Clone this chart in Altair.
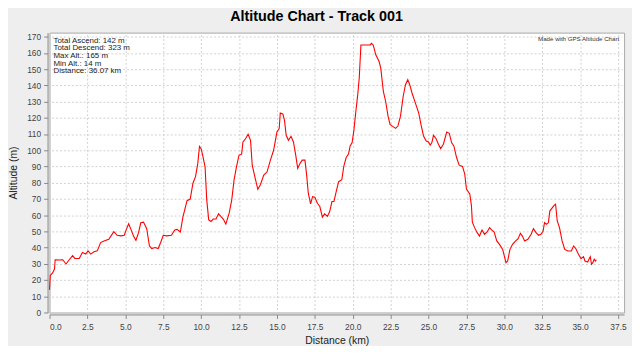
import altair as alt
import pandas as pd

# ---- data ----
distance_km = [
    0.0, 0.05, 0.2, 0.33, 0.37, 0.65, 0.87, 1.09, 1.3, 1.52, 1.67, 1.96, 2.17, 2.39, 2.54, 2.72, 2.93,
    3.15, 3.37, 3.59, 3.91, 4.24, 4.46, 4.72, 4.93, 5.07, 5.22, 5.37, 5.54, 5.7, 5.87, 6.02, 6.2,
    6.41, 6.59, 6.74, 6.96, 7.17, 7.33, 7.5, 7.72, 8.04, 8.26, 8.41, 8.63, 8.8, 9.07, 9.28, 9.46,
    9.63, 9.78, 9.89,
    10.0, 10.1, 10.26, 10.37, 10.5, 10.65, 10.8, 10.98, 11.15, 11.3, 11.46, 11.63, 11.85, 12.02,
    12.17, 12.33, 12.5, 12.67, 12.76, 12.93, 13.1, 13.26, 13.37, 13.54, 13.74, 13.9, 14.13, 14.35,
    14.57, 14.78, 15.0, 15.15, 15.22, 15.39, 15.5, 15.61, 15.76, 15.93, 16.09, 16.24, 16.37, 16.52,
    16.67, 16.85, 16.96, 17.07, 17.22, 17.35, 17.5, 17.67, 17.83, 18.0, 18.15, 18.33, 18.48, 18.63,
    18.76, 18.91, 19.07,
    19.28, 19.41, 19.57, 19.72, 19.83, 19.96, 20.07, 20.22, 20.33, 20.43, 20.54, 20.98, 21.15, 21.24,
    21.35, 21.52, 21.74, 21.85, 22.02, 22.17, 22.33, 22.46, 22.61, 22.83, 22.98, 23.15, 23.33, 23.48,
    23.63, 23.76, 23.91, 24.13, 24.35, 24.5, 24.67, 24.85, 25.0, 25.11, 25.22, 25.33, 25.5, 25.65,
    25.8, 25.98, 26.2, 26.37, 26.52, 26.67, 26.85, 27.02, 27.24, 27.39, 27.5, 27.72, 27.83, 27.89,
    28.04, 28.21, 28.36, 28.53, 28.69, 28.86, 29.03, 29.18, 29.33, 29.5, 29.68, 29.89, 30.0, 30.11,
    30.22, 30.37, 30.54, 30.75, 30.91, 31.06, 31.19, 31.34, 31.55, 31.77, 31.92, 32.09, 32.26, 32.41,
    32.56, 32.65, 32.78, 32.91, 33.0, 33.17, 33.28, 33.38, 33.49, 33.64, 33.81, 33.99, 34.2, 34.42,
    34.57, 34.72, 34.89, 35.06, 35.22, 35.32, 35.5, 35.58, 35.67, 35.75, 35.84, 35.93, 36.01, 36.07,
]
altitude_m = [
    14, 22.8, 24.4, 26.8, 32.5, 32.3, 32.5, 29.9, 32.5, 35, 33.3, 33.3, 37, 36, 38, 36, 37.4,
    38, 43.1, 44.1, 45.1, 49.8, 47.6, 47.2, 47.6, 51.2, 54.7, 51.2, 47.2, 44.5, 49.2, 55.3, 55.7,
    51.6, 41, 39.4, 40, 39.4, 43.1, 47.6, 47.2, 47.6, 50.8, 51.2, 49.6, 58.9, 68.9, 69.9, 79.7,
    83.7, 91.9, 102.4,
    101, 97, 89.8, 69.4, 57.1, 56.1, 57.6, 57.6, 60.8, 59.2, 57.6, 54.5, 61.2, 69.4,
    81.6, 89.8, 97, 97.6, 105.1, 107.1, 109.8, 106.1, 90.8, 83.7, 75.9, 78.6, 84.7, 86.7,
    93.9, 100, 111.2, 113.3, 122.9, 122.4, 118.4, 109.2, 106.1, 108.6, 105.1, 97, 88.8, 91.8,
    93.9, 93.9, 84.7, 73.5, 66.9, 71.4, 71, 67.3, 65.3, 58.8, 60.8, 59.2, 62.2, 68.4,
    68.4, 74.5, 80.6,
    81.8, 90, 95.5, 97.6, 102.7, 104.7, 111.8, 125.1, 134.3, 144.5, 164.9, 164.9, 164.9, 165.9,
    164.9, 158.8, 154.7, 150.6, 136.3, 130.2, 121, 115.9, 114.9, 113.5, 114.9, 121, 133.3, 140.4,
    143.5, 140.4, 135.3, 129.2, 123.1, 115.9, 108.8, 105.7, 105.1, 103.1, 104.7, 109.2, 107.1, 103.7,
    101, 103.7, 111.2, 110.4, 104.7, 102.7, 95.5, 90.8, 90, 85.3, 76.1, 73.1, 65.9, 55.7,
    52.3, 49.2, 47.1, 50.8, 48.2, 49.6, 52.3, 50.8, 49.6, 44.1, 42, 38.9, 34.8, 30.7,
    31.7, 38.9, 42, 44.1, 45.5, 48.8, 47.1, 44.1, 45.1, 48.2, 51.7, 49.2, 47.6, 48.2,
    50.2, 55.4, 54.3, 55.4, 62.5, 64.6, 66, 66.7, 56.4, 52.3, 44.1, 38.9, 37.9, 37.9,
    41, 39.3, 35.9, 33.2, 34.4, 31.7, 31.1, 32.8, 34.4, 29.7, 30.7, 32.8, 31.7, 32.5,
]
x_ticks = [0.0, 2.5, 5.0, 7.5, 10.0, 12.5, 15.0, 17.5, 20.0, 22.5, 25.0, 27.5, 30.0, 32.5, 35.0, 37.5]
y_ticks = [0, 10, 20, 30, 40, 50, 60, 70, 80, 90, 100, 110, 120, 130, 140, 150, 160, 170]
stats_lines = [
    "Total Ascend: 142 m",
    "Total Descend: 323 m",
    "Max Alt.: 165 m",
    "Min Alt.: 14 m",
    "Distance: 36.07 km",
]
chart_title = "Altitude Chart - Track 001"
credit_text = "Made with GPS Altitude Chart"
x_title = "Distance (km)"
y_title = "Altitude (m)"

FONT = "Liberation Sans"

df = pd.DataFrame({"d": distance_km, "a": altitude_m})

line = alt.Chart(df).mark_line(color="#ff0000", strokeWidth=1.1).encode(
    x=alt.X(
        "d:Q",
        scale=alt.Scale(domain=[0, 37.9], nice=False, zero=False),
        axis=alt.Axis(
            values=x_ticks, format=".1f", title=x_title,
            titleBaseline="alphabetic", titleY=29, titleX=290.5,
            labelPadding=4, labelBaseline="top",
        ),
    ),
    y=alt.Y(
        "a:Q",
        scale=alt.Scale(domain=[0, 172.5], nice=False),
        axis=alt.Axis(
            values=y_ticks, format="d", title=y_title,
            titleX=-29, titleY=141.5, titleBaseline="bottom",
            labelPadding=3,
        ),
    ),
)

one = pd.DataFrame({"k": [0]})

title_mark = alt.Chart(one).mark_text(
    text=chart_title, align="center", baseline="alphabetic", font=FONT,
    fontSize=14.5, fontWeight="bold", color="#000000",
).encode(x=alt.value(270), y=alt.value(-12))

stats = alt.Chart(one).mark_text(
    text=stats_lines, align="left", baseline="alphabetic", font=FONT,
    fontSize=8, lineHeight=7.8, color="#222222",
).encode(x=alt.value(4), y=alt.value(10))

credit = alt.Chart(one).mark_text(
    text=credit_text, align="right", baseline="alphabetic", font=FONT,
    fontSize=6.2, color="#333333",
).encode(x=alt.value(576), y=alt.value(8))

chart = alt.layer(line, title_mark, stats, credit).properties(
    width=581,
    height=283,
    autosize="none",
    padding={"left": 42, "top": 23, "right": 8, "bottom": 32},
    background="#eeeeee",
).configure_view(
    fill="#ffffff", stroke="#a8a8a8", strokeWidth=1,
).configure_axis(
    offset=2,
    domainColor="#888888",
    tickColor="#888888",
    tickSize=4,
    grid=True,
    gridColor="#d0d0d0",
    gridDash=[2, 2],
    gridWidth=1,
    labelFont=FONT,
    labelFontSize=8.5,
    labelColor="#444444",
    titleFont=FONT,
    titleFontSize=10.5,
    titleFontWeight="normal",
    titleColor="#222222",
)

chart.save("out.html", embed_options={"renderer": "svg", "actions": False})
